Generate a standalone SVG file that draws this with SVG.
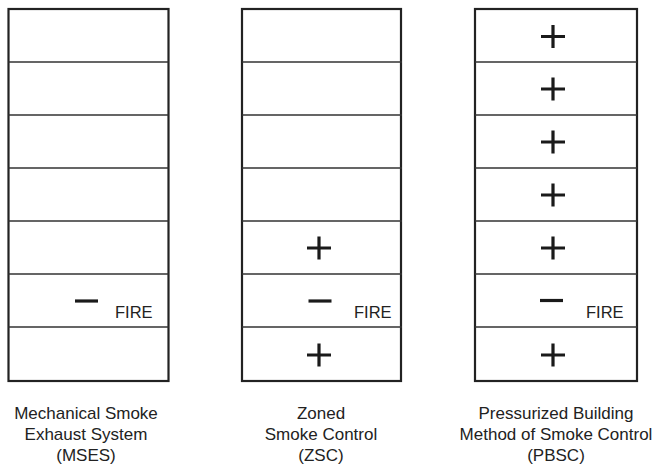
<svg xmlns="http://www.w3.org/2000/svg" width="655" height="468" viewBox="0 0 655 468">
  <style>
    .frame { fill: #fff; stroke: #222; stroke-width: 2.2; }
    .floor { stroke: #333; stroke-width: 1.5; fill: none; }
    .sign { stroke: #1a1a1a; stroke-width: 3.2; fill: none; stroke-linecap: butt; }
    .fire { font-family: "Liberation Sans", Arial, sans-serif; font-size: 16.5px; fill: #222; }
    .label { font-family: "Liberation Sans", Arial, sans-serif; font-size: 17px; fill: #222; text-anchor: middle; }
  </style>
  <defs>
    <path id="plus" class="sign" d="M-12,0 H12 M0,-11.5 V11.5"/>
    <path id="minus" class="sign" d="M-11.5,0 H11.5"/>
    <g id="floors">
      <path class="floor" d="M0,62 H160 M0,115 H160 M0,168 H160 M0,221 H160 M0,274 H160 M0,327 H160"/>
    </g>
  </defs>
  <rect width="655" height="468" fill="#fff"/>

  <g id="mses">
    <rect class="frame" x="8.5" y="9" width="160" height="372"/>
    <use href="#floors" x="8.5"/>
    <use href="#minus" x="86.5" y="301"/>
    <text class="fire" x="115" y="318">FIRE</text>
    <text class="label" x="86" y="419">Mechanical Smoke</text>
    <text class="label" x="86" y="440">Exhaust System</text>
    <text class="label" x="86" y="461">(MSES)</text>
  </g>

  <g id="zsc">
    <rect class="frame" x="242" y="9" width="159" height="372"/>
    <use href="#floors" x="242"/>
    <use href="#plus" x="319" y="248"/>
    <use href="#minus" x="320" y="301"/>
    <text class="fire" x="354" y="318">FIRE</text>
    <use href="#plus" x="319" y="355"/>
    <text class="label" x="321" y="419">Zoned</text>
    <text class="label" x="321" y="440">Smoke Control</text>
    <text class="label" x="321" y="461">(ZSC)</text>
  </g>

  <g id="pbsc">
    <rect class="frame" x="475" y="9" width="162" height="372"/>
    <path class="floor" d="M475,62 H637 M475,115 H637 M475,168 H637 M475,221 H637 M475,274 H637 M475,327 H637"/>
    <use href="#plus" x="553" y="36.5"/>
    <use href="#plus" x="553" y="89"/>
    <use href="#plus" x="553" y="142"/>
    <use href="#plus" x="553" y="195"/>
    <use href="#plus" x="553" y="248"/>
    <use href="#minus" x="551.5" y="300.5"/>
    <text class="fire" x="586" y="318">FIRE</text>
    <use href="#plus" x="553" y="355"/>
    <text class="label" x="556" y="419">Pressurized Building</text>
    <text class="label" x="556" y="440">Method of Smoke Control</text>
    <text class="label" x="556" y="461">(PBSC)</text>
  </g>

  <g id="connectors"></g>
</svg>
